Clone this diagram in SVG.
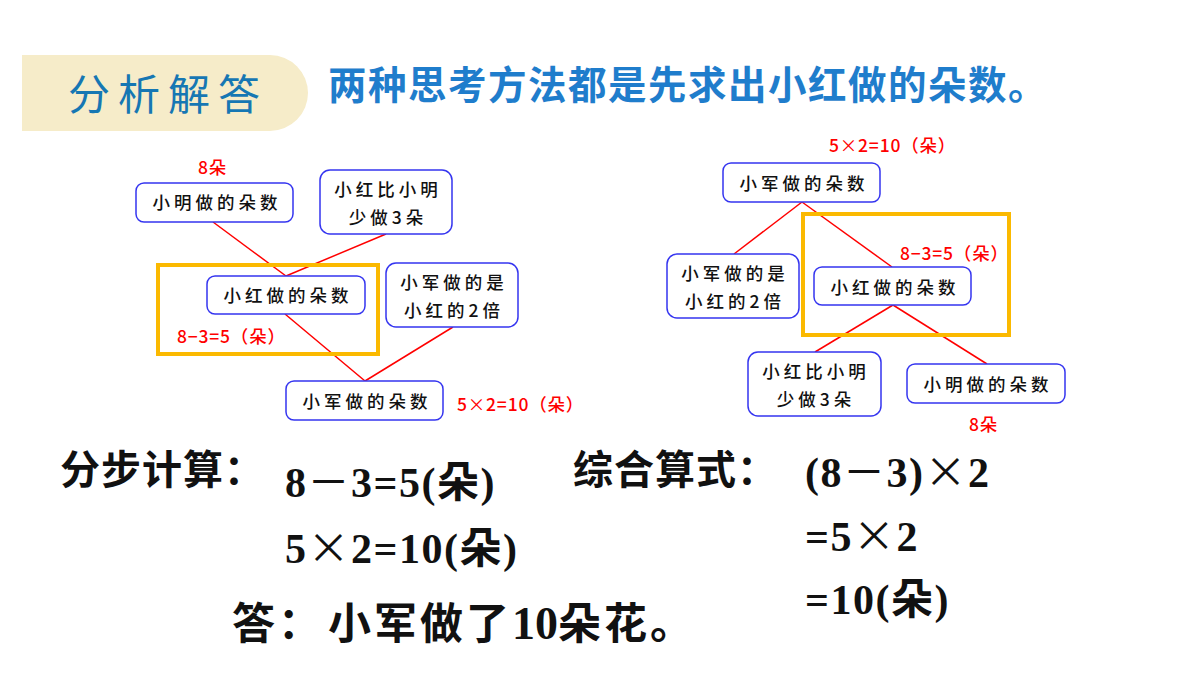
<svg xmlns="http://www.w3.org/2000/svg" width="1200" height="675" viewBox="0 0 1200 675">
<style>
.box{fill:#fff;stroke:#3535f0;stroke-width:1.5}
.bt{font-family:"Noto Sans CJK SC","Noto Sans",sans-serif;font-size:17.5px;font-weight:500;letter-spacing:4px;fill:#111;text-anchor:middle}
.red{font-family:"Noto Sans CJK SC","Liberation Sans",sans-serif;font-size:17.5px;font-weight:500;fill:#ff0000;letter-spacing:0.8px}
.ln{stroke:#ff0000;stroke-width:1.5;fill:none}
.org{fill:none;stroke:#fbb900;stroke-width:4}
.cjk{font-family:"Noto Sans CJK SC",sans-serif;font-size:40px;font-weight:bold;fill:#111;letter-spacing:1px}
.ans{font-family:"Noto Sans CJK SC",sans-serif;font-size:43px;font-weight:bold;fill:#111;letter-spacing:3px}
.math{font-family:"Liberation Serif","Noto Sans CJK SC",serif;font-size:42px;font-weight:bold;fill:#111;letter-spacing:1.5px}
.x{font-family:"Noto Sans CJK SC",sans-serif;font-weight:normal}
.num{font-family:"Liberation Serif",serif;font-size:46px;letter-spacing:0}
</style>
<rect width="1200" height="675" fill="#fff"/>
<g id="header">
<path d="M22,55 H270 A38,38 0 0 1 270,131 H22 Z" fill="#f6ecc9"/>
<text x="68" y="110" font-family="Noto Sans CJK SC,sans-serif" font-size="42" letter-spacing="8" fill="#1677b3">分析解答</text>
</g>
<g id="title">
<text x="328" y="99" font-family="Noto Sans CJK SC,sans-serif" font-size="38.5" letter-spacing="1.5" font-weight="bold" fill="#1f7dcc">两种思考方法都是先求出小红做的朵数。</text>
</g>
<g id="connectors">
<line class="ln" x1="213" y1="222" x2="286" y2="276"/>
<line class="ln" x1="386" y1="234" x2="286" y2="276"/>
<line class="ln" x1="285" y1="314" x2="365" y2="381"/>
<line class="ln" x1="453" y1="327" x2="365" y2="381"/>
<line class="ln" x1="802" y1="202" x2="734" y2="254"/>
<line class="ln" x1="802" y1="202" x2="892" y2="267"/>
<line class="ln" x1="893" y1="305" x2="815" y2="352"/>
<line class="ln" x1="893" y1="305" x2="987" y2="364"/>
</g>
<g id="highlights">
<rect class="org" x="158" y="265" width="220" height="89"/>
<rect class="org" x="803" y="214" width="206" height="121"/>
</g>
<g id="L-xiaoming">
<rect class="box" x="136" y="183" width="157" height="39" rx="8"/>
<text class="bt" x="217" y="209">小明做的朵数</text>
<text class="red" x="198" y="174">8朵</text>
</g>
<g id="L-hongbi">
<rect class="box" x="320" y="170" width="132" height="64" rx="10"/>
<text class="bt" x="388" y="196">小红比小明</text>
<text class="bt" x="388" y="224">少做3朵</text>
</g>
<g id="L-xiaohong">
<rect class="box" x="207" y="276" width="158" height="38" rx="8"/>
<text class="bt" x="288" y="302">小红做的朵数</text>
<text class="red" x="177" y="343">8−3=5（朵）</text>
</g>
<g id="L-junshi">
<rect class="box" x="386" y="263" width="132" height="64" rx="10"/>
<text class="bt" x="454" y="289">小军做的是</text>
<text class="bt" x="454" y="317">小红的2倍</text>
</g>
<g id="L-xiaojun">
<rect class="box" x="286" y="381" width="157" height="39" rx="8"/>
<text class="bt" x="367" y="408">小军做的朵数</text>
<text class="red" x="457" y="411">5<tspan class="x">×</tspan>2=10（朵）</text>
</g>
<g id="R-xiaojun">
<rect class="box" x="723" y="163" width="157" height="39" rx="8"/>
<text class="bt" x="804" y="190">小军做的朵数</text>
<text class="red" x="829" y="152">5<tspan class="x">×</tspan>2=10（朵）</text>
</g>
<g id="R-junshi">
<rect class="box" x="667" y="254" width="132" height="64" rx="10"/>
<text class="bt" x="735" y="280">小军做的是</text>
<text class="bt" x="735" y="308">小红的2倍</text>
</g>
<g id="R-xiaohong">
<rect class="box" x="814" y="267" width="157" height="38" rx="8"/>
<text class="bt" x="895" y="294">小红做的朵数</text>
<text class="red" x="900" y="260">8−3=5（朵）</text>
</g>
<g id="R-hongbi">
<rect class="box" x="748" y="352" width="133" height="64" rx="10"/>
<text class="bt" x="816" y="378">小红比小明</text>
<text class="bt" x="816" y="406">少做3朵</text>
</g>
<g id="R-xiaoming">
<rect class="box" x="907" y="364" width="158" height="39" rx="8"/>
<text class="bt" x="988" y="391">小明做的朵数</text>
<text class="red" x="969" y="431">8朵</text>
</g>
<g id="calc">
<text class="cjk" x="60" y="484">分步计算：</text>
<text class="math" x="285" y="497">8<tspan class="x">－</tspan>3=5(朵)</text>
<text class="math" x="285" y="563">5<tspan class="x">×</tspan>2=10(朵)</text>
<text class="ans" x="232" y="639">答：<tspan dx="4">小军做了</tspan><tspan class="num">10</tspan>朵花。</text>
<text class="cjk" x="573" y="484">综合算式：</text>
<text class="math" x="805" y="487">(8<tspan class="x">－</tspan>3)<tspan class="x">×</tspan>2</text>
<text class="math" x="805" y="551">=5<tspan class="x">×</tspan>2</text>
<text class="math" x="805" y="614">=10(朵)</text>
</g>
</svg>
